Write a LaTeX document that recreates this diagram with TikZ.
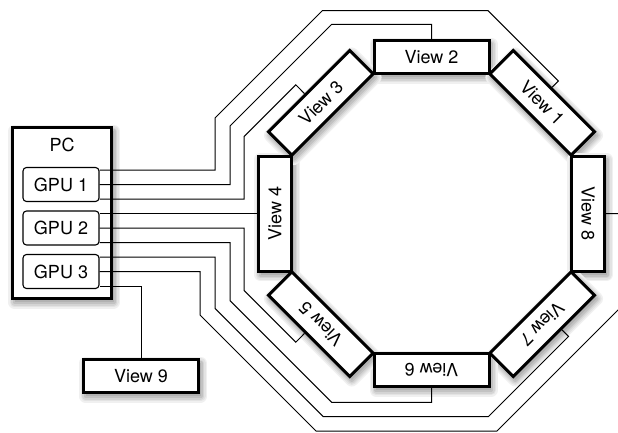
\documentclass[tikz,border=0pt]{standalone}
\usepackage{fontspec}
\setmainfont{TeX Gyre Heros}
\usetikzlibrary{calc}
\begin{document}
\begin{tikzpicture}[x=1pt,y=-1pt,
  wire/.style={line width=1pt, line join=miter},
  lbl/.style={font=\fontsize{18}{21}\selectfont},
  viewbox/.style={draw, line width=3pt, fill=white, minimum width=115pt, minimum height=33pt, inner sep=0pt, lbl},
  gpubox/.style={draw, line width=1.1pt, rounded corners=3.5pt, fill=white, minimum width=76pt, minimum height=34pt, inner sep=0pt, lbl},
  pcbox/.style={draw, line width=3pt, fill=white, minimum width=99pt, minimum height=171pt, inner sep=0pt},
  shadowring/.style={line join=round}
]
\useasboundingbox (0,0) rectangle (618,432);
\fill[white] (0,0) rectangle (618,432);

% soft drop shadows, drawn first so the boxes cover them
\foreach \px/\py/\rot/\hw/\hh in {62/213/0/49.5/85.5, 431.5/57/0/57.5/16.5, 542.2/102.8/-45/57.5/16.5, 588/213.5/-90/57.5/16.5, 542.2/324.2/-135/57.5/16.5, 431.5/370/180/57.5/16.5, 320.8/324.2/135/57.5/16.5, 275/213.5/90/57.5/16.5, 320.8/102.8/45/57.5/16.5, 141/376/0/57.5/16.5} {
  \begin{scope}[shift={(\px+2,\py+3.5)}, rotate=\rot]
    \draw[shadowring, draw=black!6, line width=13pt] (-\hw,-\hh) -- (\hw,-\hh) -- (\hw,\hh) -- (-\hw,\hh) -- cycle;
    \draw[shadowring, draw=black!11, line width=10pt] (-\hw,-\hh) -- (\hw,-\hh) -- (\hw,\hh) -- (-\hw,\hh) -- cycle;
    \draw[shadowring, draw=black!17, line width=7pt] (-\hw,-\hh) -- (\hw,-\hh) -- (\hw,\hh) -- (-\hw,\hh) -- cycle;
    \draw[shadowring, draw=black!24, line width=4pt] (-\hw,-\hh) -- (\hw,-\hh) -- (\hw,\hh) -- (-\hw,\hh) -- cycle;
    \fill[black!30] (-\hw,-\hh) -- (\hw,-\hh) -- (\hw,\hh) -- (-\hw,\hh) -- cycle;
  \end{scope}
}

% PC box, label and GPUs
\node[pcbox] (pc) at (62,213) {};
\node[lbl] (pclabel) at (62,145) {PC};
\node[gpubox] (g1) at (61,184.5) {GPU 1};
\node[gpubox] (g2) at (61,228) {GPU 2};
\node[gpubox] (g3) at (61,271.5) {GPU 3};

% views
\node[viewbox] (v2) at (431.5,57) {View 2};
\node[viewbox, rotate=-45] (v1) at (542.2,102.8) {View 1};
\node[viewbox, rotate=-90] (v8) at (588,213.5) {View 8};
\node[viewbox, rotate=-135] (v7) at (542.2,324.2) {View 7};
\node[viewbox, rotate=180] (v6) at (431.5,370) {View 6};
\node[viewbox, rotate=135] (v5) at (320.8,324.2) {View 5};
\node[viewbox, rotate=90] (v4) at (275,213.5) {View 4};
\node[viewbox, rotate=45] (v3) at (320.8,102.8) {View 3};
\node[viewbox] (v9) at (141,376) {View 9};

\coordinate (s1) at ($(v1.north)!4pt!(v1.north west)$);
\coordinate (s3) at ($(v3.north)!5pt!(v3.north west)$);
\coordinate (s5) at ($(v5.north)!5pt!(v5.north east)$);
\coordinate (s7) at ($(v7.north)!10pt!(v7.north west)$);

% wires (drawn on top; they end on the box borders)
\begin{scope}
\clip (0,0) rectangle (618,432);
\draw[wire] (g1.east |- 0,170) -- (215,170) -- (215,118) -- (322.3,10.7) -- (488,10.7) -- (558.4,81) -- (s1);
\draw[wire] (g1.east) -- (230,184.5) -- (230,126) -- (331.7,24.3) -- (v2.north |- 0,24.3) -- (v2.north);
\draw[wire] (g1.east |- 0,199) -- (244,199) -- (244,136.6) -- (295.8,84.8) -- (s3);
\draw[wire] (g2.east |- 0,213.5) -- (v4.north);
\draw[wire] (g2.east) -- (244,228) -- (244,290.4) -- (295.8,342.2) -- (s5);
\draw[wire] (g2.east |- 0,242.5) -- (230,242.5) -- (230,300.6) -- (331.7,402.3) -- (v6.north |- 0,402.3) -- (v6.north);
\draw[wire] (g3.east |- 0,257) -- (215,257) -- (215,308.4) -- (323.3,416.7) -- (488.3,416.7) -- (568.6,336.4) -- (s7);
\draw[wire] (g3.east) -- (200,271.5) -- (200,315) -- (316,431) -- (497,431) -- (640,288) -- (640,213.5) -- (v8.north);
\draw[wire] (g3.east |- 0,286) -| (v9.north);
\end{scope}
\end{tikzpicture}
\end{document}
